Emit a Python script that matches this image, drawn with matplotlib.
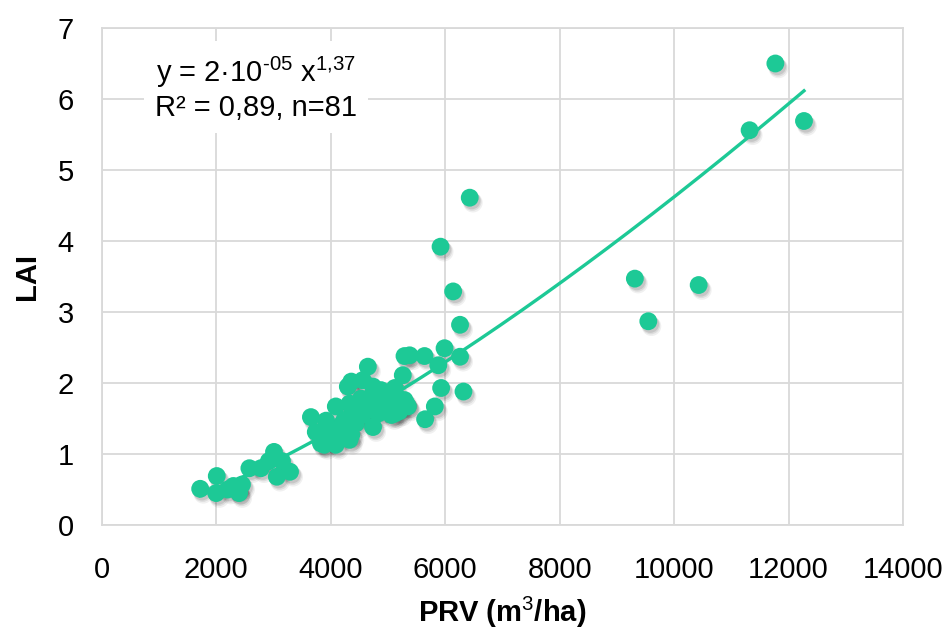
import matplotlib
matplotlib.use("Agg")
import matplotlib.pyplot as plt
import numpy as np
from matplotlib import font_manager as fm

names = {f.name for f in fm.fontManager.ttflist}
fam = "Liberation Sans Narrow" if "Liberation Sans Narrow" in names else "Liberation Sans"
plt.rcParams["font.family"] = [fam, "DejaVu Sans"]
plt.rcParams["mathtext.fontset"] = "custom"
plt.rcParams["mathtext.rm"] = fam
plt.rcParams["mathtext.it"] = fam
plt.rcParams["mathtext.bf"] = fam + ":bold"

# Data (PRV m3/ha, LAI)
prv = [1720, 2010, 2000, 2200, 2370, 2400, 2450, 2580, 2780, 2920, 3010, 3060, 3150, 3290, 2300,
       3655, 3740, 3830, 3890, 3920, 3950, 4090, 4090, 4120, 4210, 4210, 4240, 4300, 4330, 4330,
       4360, 4360, 4360, 4415, 4440, 4530, 4560, 4560, 4600, 4650, 4650, 4700, 4740, 4740, 4830,
       4830, 4880, 4880, 5000, 5030, 5060, 5120, 5120, 5150, 5200, 5200, 5260, 5290, 5290, 5320,
       5350, 5380, 5640, 5650, 5820, 5880, 5930, 5920, 5990, 6140, 6260, 6260, 6320, 6430,
       9315, 9550, 10430, 11320, 11770, 12270, 3980]
lai = [0.51, 0.69, 0.45, 0.50, 0.50, 0.45, 0.57, 0.80, 0.80, 0.90, 1.03, 0.68, 0.90, 0.75, 0.55,
       1.52, 1.31, 1.15, 1.13, 1.47, 1.22, 1.13, 1.67, 1.30, 1.34, 1.43, 1.48, 1.95, 1.20, 1.71,
       1.27, 1.67, 2.02, 1.50, 1.43, 1.78, 2.04, 1.55, 1.60, 2.23, 1.78, 1.64, 1.95, 1.38, 1.74,
       1.57, 1.90, 1.64, 1.69, 1.83, 1.55, 1.93, 1.57, 1.81, 1.67, 1.60, 2.11, 1.76, 2.38, 1.71,
       1.67, 2.39, 2.38, 1.49, 1.67, 2.25, 1.93, 3.92, 2.49, 3.29, 2.82, 2.37, 1.88, 4.61,
       3.47, 2.87, 3.38, 5.56, 6.50, 5.69, 1.35]

# Power trendline parameters (drawn)
fit_a = 1.53e-5
fit_b = 1.37

x_ticks = [0, 2000, 4000, 6000, 8000, 10000, 12000, 14000]
y_ticks = [0, 1, 2, 3, 4, 5, 6, 7]

color = "#1dc996"

fig = plt.figure(figsize=(9.42, 6.29), dpi=100)
ax = fig.add_axes([0.108, 0.1653, 0.8506, 0.7902])

x = np.array(prv, dtype=float)
y = np.array(lai, dtype=float)

# soft shadow
for dx, dy, s, a in [(55, -0.07, 200, 0.06), (45, -0.055, 175, 0.08), (35, -0.04, 160, 0.10)]:
    ax.scatter(x + dx, y + dy, s=s, color="#000000", alpha=a, edgecolors="none", zorder=2)
ax.scatter(x, y, s=165, color=color, edgecolors="none", zorder=3)

xl = np.linspace(x.min(), x.max(), 200)
ax.plot(xl, fit_a * xl ** fit_b, color=color, lw=2.4, zorder=4)

ax.set_xlim(0, 14000)
ax.set_ylim(0, 7)
ax.set_xticks(x_ticks)
ax.set_yticks(y_ticks)
ax.tick_params(length=0, labelsize=21)
ax.tick_params(axis="x", pad=22)
ax.tick_params(axis="y", pad=20)
ax.grid(True, color="#d9d9d9", lw=1.3)
ax.set_axisbelow(True)
for sp in ax.spines.values():
    sp.set_color("#d9d9d9")
    sp.set_linewidth(1.3)

ax.set_xlabel("PRV (m$^3$/ha)", fontsize=21, fontweight="bold", labelpad=8)
ax.set_ylabel("LAI", fontsize=21, fontweight="bold", labelpad=12)

ax.text(2700, 6.15, "y = 2·10$^{\\text{-05}}$ x$^{1{,}37}$\nR² = 0,89, n=81", fontsize=21,
        ha="center", va="center", linespacing=1.2,
        bbox=dict(facecolor="white", edgecolor="none", pad=8), zorder=5)

fig.savefig("out.png", dpi=100)
